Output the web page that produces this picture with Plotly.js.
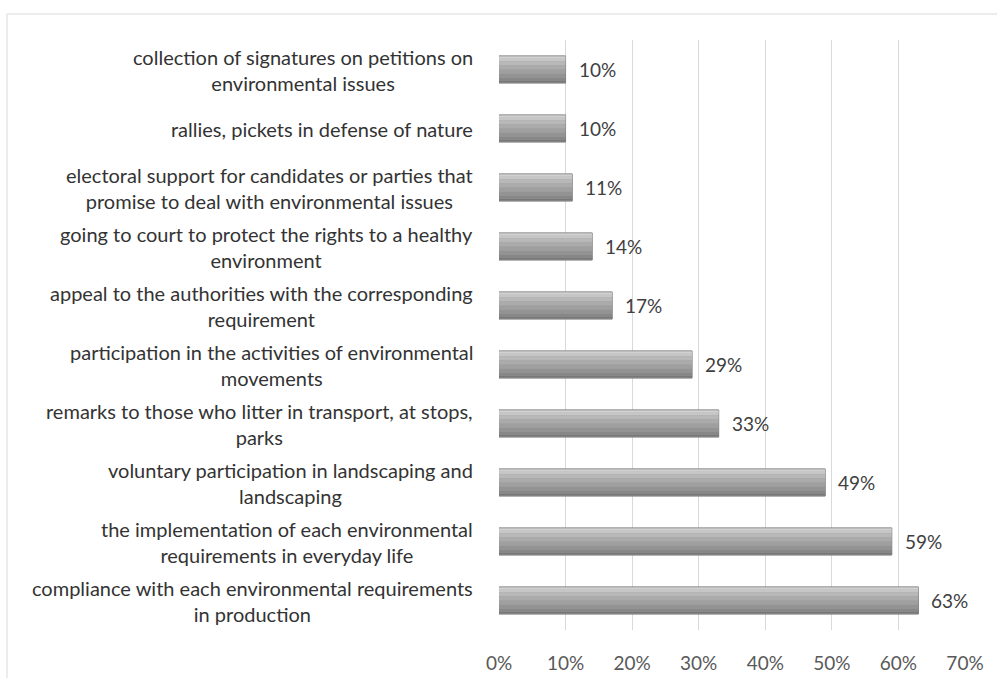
<!DOCTYPE html>
<html><head><meta charset="utf-8">
<script src="https://cdn.plot.ly/plotly-3.0.1.min.js"></script>
<style>html,body{margin:0;padding:0;background:#fff;}#chart{width:997px;height:678px;}</style>
</head><body><div id="chart"></div>
<script>
const categories = [
  "compliance with each environmental requirements<br>in production",
  "the implementation of each environmental<br>requirements in everyday life",
  "voluntary participation in landscaping and<br>landscaping",
  "remarks to those who litter in transport, at stops,<br>parks",
  "participation in the activities of environmental<br>movements",
  "appeal to the authorities with the corresponding<br>requirement",
  "going to court to protect the rights to a healthy<br>environment",
  "electoral support for candidates or parties that<br>promise to deal with environmental issues",
  "rallies, pickets in defense of nature",
  "collection of signatures on petitions on<br>environmental issues"
];
const values = [0.63, 0.59, 0.49, 0.33, 0.29, 0.17, 0.14, 0.11, 0.10, 0.10];
const tickVals = [0, 0.1, 0.2, 0.3, 0.4, 0.5, 0.6, 0.7];
const tickText = ["0%", "10%", "20%", "30%", "40%", "50%", "60%", "70%"];

const idx = categories.map((c, i) => i);
const traces = [
  {type: 'bar', orientation: 'h', x: values, y: idx, width: 0.46,
   marker: {color: '#a3a3a3', line: {color: '#7a7a7a', width: 1}}, hoverinfo: 'skip'}
];
// shading bands (top to bottom) for a bevelled look
const bands = [
  [0.20, 0.22, '#e4e4e4'],
  [0.14, 0.20, '#c6c6c6'],
  [0.07, 0.14, '#b8b8b8'],
  [0.00, 0.07, '#ababab'],
  [-0.07, 0.00, '#9f9f9f'],
  [-0.14, -0.07, '#939393'],
  [-0.19, -0.14, '#878787'],
  [-0.22, -0.19, '#777777']
];
bands.forEach(b => traces.push({type: 'bar', orientation: 'h', x: values, y: idx,
  offset: b[0], width: b[1] - b[0], marker: {color: b[2], line: {width: 0}}, hoverinfo: 'skip'}));

const font = "Lato, 'Open Sans', sans-serif";
const annotations = [];
categories.forEach((c, i) => {
  annotations.push({x: 0, y: i, xref: 'x', yref: 'y', text: c, showarrow: false,
    xanchor: 'right', xshift: -24, align: 'center', yanchor: 'middle',
    font: {family: font, size: 20, color: '#333333'}});
  annotations.push({x: values[i], y: i, xref: 'x', yref: 'y',
    text: Math.round(values[i] * 100) + '%', showarrow: false,
    xanchor: 'left', xshift: 11, font: {family: font, size: 19, color: '#404040'}});
});

const layout = {
  width: 997, height: 678,
  margin: {l: 499, r: 32, t: 40, b: 48},
  paper_bgcolor: '#fff', plot_bgcolor: '#fff',
  barmode: 'overlay', showlegend: false,
  font: {family: font},
  xaxis: {range: [0, 0.7], tickvals: tickVals, ticktext: tickText,
    showgrid: true, gridcolor: '#d9d9d9', gridwidth: 1, zeroline: false,
    showline: false, ticks: 'outside', ticklen: 16, tickcolor: 'rgba(0,0,0,0)',
    tickfont: {family: font, size: 19, color: '#595959'}, fixedrange: true},
  yaxis: {range: [-0.5, 9.5], showticklabels: false, showgrid: false,
    zeroline: false, showline: false, ticks: '', fixedrange: true},
  annotations: annotations,
  shapes: [{type: 'rect', xref: 'paper', yref: 'paper',
    x0: (7 - 499) / 466, x1: 1.2, y0: -0.2, y1: (630 - 14) / 590,
    line: {color: '#d9d9d9', width: 1}, fillcolor: 'rgba(0,0,0,0)', layer: 'below'}]
};
Plotly.newPlot('chart', traces, layout, {staticPlot: true, displayModeBar: false});
</script></body></html>
